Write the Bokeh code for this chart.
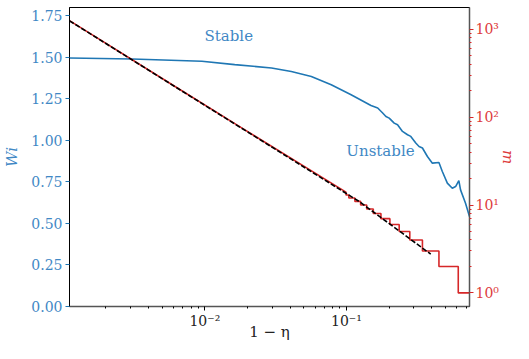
import math
from bokeh.plotting import figure
from bokeh.models import (Range1d, LogScale, LogAxis, FixedTicker,
                          CustomJSTickFormatter, ColumnDataSource, PrintfTickFormatter)
from bokeh.core.properties import value
from bokeh.embed import file_html
from bokeh.resources import INLINE

# ---- data ----
# Wi (left axis) vs 1 - eta
wi_x = [1.107e-3, 3.07e-3, 9.53e-3, 0.01626, 0.02958, 0.0408, 0.0565, 0.0781,
        0.1079, 0.1491, 0.1663, 0.1803, 0.1901, 0.2005, 0.2175, 0.2297, 0.2489,
        0.2701, 0.2849, 0.3088, 0.3258, 0.3442, 0.3733, 0.4047, 0.4502, 0.4757,
        0.5160, 0.5594, 0.5902, 0.6223, 0.6397, 0.6937, 0.7400]
wi_y = [1.496, 1.490, 1.476, 1.456, 1.436, 1.415, 1.385, 1.335,
        1.275, 1.210, 1.195, 1.165, 1.144, 1.134, 1.104, 1.094, 1.054,
        1.034, 1.024, 0.984, 0.963, 0.954, 0.903, 0.863, 0.867, 0.813,
        0.743, 0.712, 0.722, 0.758, 0.702, 0.622, 0.541]

# m (right axis): dense part (steps too fine to see) and visible steps
m_dense_x = [1.107e-3, 6.706e-3, 0.0182, 0.0993]
m_dense_y = [1256, 205, 75.5, 14]
m_step_edges = [0.0993, 0.1040, 0.1148, 0.1260, 0.1391, 0.1548, 0.1753,
                0.2028, 0.2358, 0.2803, 0.3442, 0.4502, 0.6164, 0.74]
m_step_levels = [13, 12, 11, 10, 9, 8, 7, 6, 5, 4, 3, 2, 1]

# fit (black dashed)
fit_x = [1.107e-3, 6.706e-3, 0.0182, 0.1234, 0.394]
fit_m = [1249, 203.9, 74.8, 10.93, 2.76]

wi_ticks = [0.0, 0.25, 0.5, 0.75, 1.0, 1.25, 1.5, 1.75]
x_ticks = [0.01, 0.1]
m_ticks = [1, 10, 100, 1000]

labels = ["Stable", "Unstable"]
label_x = [0.01476, 0.1739]
label_y = [1.63, 0.937]

X_MIN, X_MAX = 1.107e-3, 0.74
WI_MIN, WI_MAX = 0.0, 1.8
M_MIN, M_MAX = 0.7, 1770

BLUE = "#1f77b4"
BLUE_T = "#3f88c5"
RED = "#d62728"
RED_T = "#dd3b3b"
FONT = "DejaVu Serif"

# build the staircase for m
step_x = list(m_dense_x)
step_y = list(m_dense_y)
for i, lvl in enumerate(m_step_levels):
    step_x += [m_step_edges[i], m_step_edges[i + 1]]
    step_y += [lvl, lvl]

p = figure(width=521, height=343, x_axis_type="log",
           x_range=Range1d(X_MIN, X_MAX), y_range=Range1d(WI_MIN, WI_MAX),
           output_backend="svg", toolbar_location=None,
           min_border_left=67, min_border_right=52, min_border_top=7,
           min_border_bottom=36)
p.extra_y_ranges = {"m": Range1d(M_MIN, M_MAX)}
p.extra_y_scales = {"m": LogScale()}

p.grid.visible = False
p.outline_line_color = "black"
p.outline_line_width = 1
p.background_fill_color = "white"
p.border_fill_color = "white"

p.line(wi_x, wi_y, line_color=BLUE, line_width=1.6)
p.line(step_x, step_y, line_color=RED, line_width=1.6, y_range_name="m")
p.line(fit_x, fit_m, line_color="black", line_width=1.6, line_dash="5 2",
       y_range_name="m")

src = ColumnDataSource(dict(x=label_x, y=label_y, t=labels))
p.text(x="x", y="y", text="t", source=src, text_align="center",
       text_baseline="middle", text_color=BLUE_T, text_font=value(FONT),
       text_font_size="15px")

fmt = CustomJSTickFormatter(code="""
const e = Math.round(Math.log10(tick));
const sup = {'-':'\u207b','0':'\u2070','1':'\u00b9','2':'\u00b2','3':'\u00b3',
             '4':'\u2074','5':'\u2075','6':'\u2076','7':'\u2077','8':'\u2078','9':'\u2079'};
return '10' + String(e).split('').map(c => sup[c]).join('');
""")

# bottom axis
xa = p.xaxis[0]
xa.ticker = FixedTicker(ticks=x_ticks,
                        minor_ticks=[k * 1e-3 for k in range(2, 10)] +
                                    [k * 1e-2 for k in range(2, 10)] +
                                    [k * 1e-1 for k in range(2, 8)])
xa.formatter = fmt
xa.axis_label = "1 \u2212 \u03b7"
xa.axis_label_text_font = FONT
xa.axis_label_text_font_style = "normal"
xa.axis_label_text_font_size = "15px"
xa.axis_label_text_color = "#222222"
xa.axis_label_standoff = -9
xa.major_label_text_font = FONT
xa.major_label_text_font_size = "14px"
xa.major_label_text_color = "#222222"
xa.major_label_standoff = 2
xa.major_tick_in = 0
xa.major_tick_out = 4
xa.minor_tick_in = 0
xa.minor_tick_out = 2
xa.axis_line_color = "#555555"
xa.axis_line_width = 1.5

# left axis
ya = p.yaxis[0]
ya.ticker = FixedTicker(ticks=wi_ticks)
ya.formatter = PrintfTickFormatter(format="%.2f")
ya.axis_label = "Wi"
ya.axis_label_text_font = FONT
ya.axis_label_text_font_style = "italic"
ya.axis_label_text_font_size = "15px"
ya.axis_label_text_color = BLUE_T
ya.axis_label_standoff = 7
ya.major_label_text_font = FONT
ya.major_label_text_font_size = "14px"
ya.major_label_text_color = BLUE_T
ya.major_label_standoff = 3
ya.major_tick_in = 0
ya.major_tick_out = 4
ya.major_tick_line_color = BLUE
ya.minor_tick_line_color = None
ya.axis_line_color = "black"

# right axis
ra = LogAxis(y_range_name="m",
             ticker=FixedTicker(ticks=m_ticks,
                                minor_ticks=[k for k in range(2, 10)] +
                                            [k * 10 for k in range(2, 10)] +
                                            [k * 100 for k in range(2, 10)]),
             formatter=fmt)
ra.axis_label = "m"
ra.axis_label_text_font = FONT
ra.axis_label_text_font_style = "italic"
ra.axis_label_text_font_size = "15px"
ra.axis_label_text_color = RED_T
ra.axis_label_standoff = -3
ra.major_label_text_font = FONT
ra.major_label_text_font_size = "14px"
ra.major_label_text_color = RED_T
ra.major_label_standoff = 2
ra.major_tick_in = 0
ra.major_tick_out = 4
ra.minor_tick_in = 0
ra.minor_tick_out = 2
ra.major_tick_line_color = RED
ra.minor_tick_line_color = RED
ra.axis_line_color = "#555555"
ra.axis_line_width = 1.5
p.add_layout(ra, "right")

open("out.html", "w").write(file_html(p, INLINE))
